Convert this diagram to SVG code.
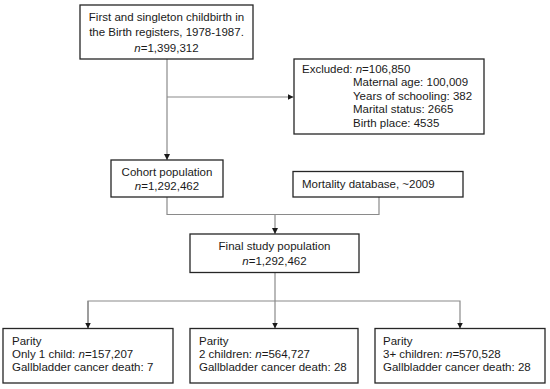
<svg xmlns="http://www.w3.org/2000/svg" width="550" height="389" viewBox="0 0 550 389">
<style>
.box{fill:#fff;stroke:#262626;stroke-width:1.3}
.t{font-family:"Liberation Sans",Arial,sans-serif;font-size:11.5px;fill:#1a1a1a}
.c{text-anchor:middle}
.i{font-style:italic}
.ln{fill:none;stroke:#8a8a8a;stroke-width:1.2}
</style>
<defs>
<marker id="ah" viewBox="0 0 8 8" refX="8" refY="4" markerWidth="6" markerHeight="6" markerUnits="userSpaceOnUse" orient="auto">
<path d="M0,0 L8,4 L0,8 Z" fill="#1a1a1a"/>
</marker>
</defs>
<rect width="550" height="389" fill="#fff"/>
<g id="connectors">
<path class="ln" d="M167,59 V160" marker-end="url(#ah)"/>
<path class="ln" d="M167,97 H293.5" marker-end="url(#ah)"/>
<path class="ln" d="M167,197 V214.5 H379 V197"/>
<path class="ln" d="M275,214.5 V234" marker-end="url(#ah)"/>
<path class="ln" d="M275,272.5 V328.5" marker-end="url(#ah)"/>
<path class="ln" d="M88,328.5 V301 H460 V328.5" marker-end="url(#ah)"/>
<path class="ln" d="M88,301 V328.5" marker-end="url(#ah)"/>
</g>
<g id="n-birth">
<rect class="box" x="80" y="5" width="173" height="54"/>
<text class="t c" x="166.5" y="20.5">First and singleton childbirth in</text>
<text class="t c" x="166.5" y="36">the Birth registers, 1978-1987.</text>
<text class="t c" x="166.5" y="51.5"><tspan class="i">n</tspan>=1,399,312</text>
</g>
<g id="n-excluded">
<rect class="box" x="294" y="59" width="190" height="75"/>
<text class="t" x="302" y="72.5">Excluded: <tspan class="i">n</tspan>=106,850</text>
<text class="t" x="353" y="86.2">Maternal age: 100,009</text>
<text class="t" x="353" y="99.8">Years of schooling: 382</text>
<text class="t" x="353" y="113.4">Marital status: 2665</text>
<text class="t" x="353" y="127">Birth place: 4535</text>
</g>
<g id="n-cohort">
<rect class="box" x="111" y="160" width="112" height="37"/>
<text class="t c" x="167" y="175.5">Cohort population</text>
<text class="t c" x="167" y="189.5"><tspan class="i">n</tspan>=1,292,462</text>
</g>
<g id="n-mortality">
<rect class="box" x="293" y="171.5" width="170" height="25.5"/>
<text class="t" x="302" y="187.5">Mortality database, ~2009</text>
</g>
<g id="n-final">
<rect class="box" x="190" y="234" width="169" height="38.5"/>
<text class="t c" x="274.5" y="250">Final study population</text>
<text class="t c" x="274.5" y="265"><tspan class="i">n</tspan>=1,292,462</text>
</g>
<g id="n-parity1">
<rect class="box" x="3" y="328.5" width="170" height="54.5"/>
<text class="t" x="12" y="345">Parity</text>
<text class="t" x="12" y="358">Only 1 child: <tspan class="i">n</tspan>=157,207</text>
<text class="t" x="12" y="371">Gallbladder cancer death: 7</text>
</g>
<g id="n-parity2">
<rect class="box" x="190" y="328.5" width="168" height="54.5"/>
<text class="t" x="199" y="345">Parity</text>
<text class="t" x="199" y="358">2 children: <tspan class="i">n</tspan>=564,727</text>
<text class="t" x="199" y="371">Gallbladder cancer death: 28</text>
</g>
<g id="n-parity3">
<rect class="box" x="375" y="328.5" width="170" height="54.5"/>
<text class="t" x="383" y="345">Parity</text>
<text class="t" x="383" y="358">3+ children: <tspan class="i">n</tspan>=570,528</text>
<text class="t" x="383" y="371">Gallbladder cancer death: 28</text>
</g>
</svg>
